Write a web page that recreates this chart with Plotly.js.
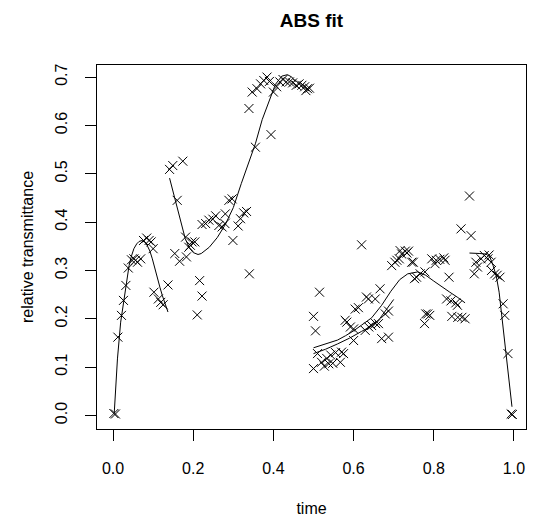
<!DOCTYPE html>
<html>
<head>
<meta charset="utf-8">
<script src="https://cdn.plot.ly/plotly-3.0.1.min.js"></script>
<style>html,body{margin:0;padding:0;background:#fff;}#chart{width:533px;height:521px;}</style>
</head>
<body>
<div id="chart"></div>
<script>
// observed data: time and relative transmittance
var time = [
  0.002,0.006,0.012,0.021,0.026,0.032,0.038,0.046,0.052,0.056,0.061,0.069,0.076,0.084,0.090,0.095,0.100,0.102,0.113,0.119,0.125,0.137,
  0.141,0.149,0.174,0.160,0.154,0.166,0.183,0.181,0.189,0.193,0.197,0.204,0.216,0.222,0.210,0.222,0.231,0.239,0.249,0.256,0.264,0.272,0.279,0.280,0.289,0.297,0.299,0.312,0.318,0.326,0.333,0.340,0.355,0.394,0.339,
  0.347,0.359,0.368,0.376,0.384,0.390,0.400,0.408,0.416,0.424,0.432,0.440,0.448,0.457,0.464,0.471,0.478,0.485,0.490,0.481,
  0.500,0.500,0.505,0.510,0.515,0.520,0.527,0.533,0.538,0.543,0.548,0.555,0.567,0.570,0.575,0.579,0.583,0.592,0.600,0.600,0.604,0.612,0.620,0.629,0.632,0.637,0.638,0.645,0.654,0.655,0.662,0.666,0.670,0.679,0.687,0.687,0.695,0.703,0.708,0.714,0.716,0.720,0.729,0.733,0.737,0.745,0.749,0.752,0.757,0.766,0.778,0.777,0.780,0.785,0.790,0.795,0.803,0.806,0.815,0.825,0.828,0.832,0.838,0.843,0.845,0.855,0.859,0.860,0.868,0.870,0.878,0.889,0.893,
  0.901,0.905,0.909,0.918,0.926,0.935,0.938,0.943,0.944,0.952,0.958,0.965,0.973,0.977,0.985,0.993,0.996
];
var transmittance = [
  0.004,0.003,0.162,0.207,0.238,0.269,0.305,0.322,0.324,0.321,0.317,0.324,0.362,0.367,0.362,0.359,0.345,0.255,0.241,0.234,0.229,0.270,
  0.509,0.517,0.526,0.445,0.335,0.319,0.328,0.369,0.348,0.352,0.359,0.359,0.279,0.247,0.208,0.395,0.397,0.404,0.406,0.413,0.393,0.390,0.397,0.417,0.445,0.448,0.362,0.392,0.407,0.419,0.422,0.293,0.555,0.581,0.635,
  0.669,0.676,0.686,0.693,0.700,0.691,0.669,0.680,0.690,0.695,0.690,0.690,0.688,0.683,0.686,0.683,0.680,0.676,0.677,0.672,
  0.205,0.097,0.175,0.128,0.255,0.110,0.102,0.118,0.107,0.125,0.108,0.130,0.110,0.131,0.128,0.197,0.193,0.183,0.179,0.155,0.220,0.223,0.353,0.176,0.245,0.241,0.183,0.186,0.241,0.190,0.190,0.262,0.159,0.210,0.162,0.216,0.310,0.317,0.321,0.324,0.341,0.334,0.340,0.336,0.340,0.317,0.317,0.283,0.286,0.293,0.297,0.190,0.210,0.210,0.207,0.324,0.314,0.321,0.323,0.326,0.321,0.241,0.286,0.237,0.205,0.233,0.228,0.203,0.386,0.203,0.200,0.454,0.372,
  0.293,0.317,0.307,0.324,0.331,0.324,0.332,0.317,0.300,0.293,0.290,0.286,0.231,0.207,0.128,0.003,0.002
];

// fitted curve pieces
var fit1Time = [0.003,0.011,0.019,0.026,0.032,0.040,0.046,0.052,0.059,0.065,0.073,0.080,0.085,0.092,0.098,0.104,0.110,0.117,0.123,0.130,0.137];
var fit1Value = [0.005,0.117,0.193,0.235,0.269,0.310,0.330,0.345,0.355,0.360,0.362,0.358,0.352,0.340,0.324,0.305,0.283,0.265,0.248,0.232,0.214];
var fit2Time = [0.141,0.150,0.160,0.170,0.180,0.190,0.200,0.212,0.220,0.240,0.260,0.280,0.300,0.320,0.340,0.355,0.372,0.389,0.405,0.421,0.435,0.446,0.455];
var fit2Value = [0.491,0.462,0.428,0.395,0.366,0.347,0.337,0.333,0.335,0.348,0.368,0.395,0.430,0.480,0.525,0.562,0.612,0.648,0.685,0.702,0.705,0.700,0.690];
var fit3Time = [0.500,0.520,0.540,0.560,0.580,0.600,0.620,0.645,0.670,0.693,0.715,0.735,0.760,0.780,0.800,0.820,0.840,0.860,0.878];
var fit3Value = [0.140,0.145,0.150,0.156,0.165,0.175,0.187,0.202,0.228,0.257,0.281,0.293,0.297,0.290,0.278,0.266,0.255,0.244,0.233];
var fit3bTime = [0.500,0.530,0.560,0.590,0.620,0.645,0.665,0.685,0.700];
var fit3bValue = [0.128,0.137,0.148,0.160,0.174,0.185,0.200,0.222,0.240];
var fit4Time = [0.889,0.900,0.915,0.930,0.940,0.948,0.956,0.963,0.970,0.977,0.984,0.990,0.995];
var fit4Value = [0.336,0.336,0.335,0.334,0.328,0.310,0.288,0.255,0.205,0.155,0.100,0.055,0.018];

var xTicks = [0, 0.2, 0.4, 0.6, 0.8, 1.0];
var xTickText = ["0.0","0.2","0.4","0.6","0.8","1.0"];
var yTicks = [0, 0.1, 0.2, 0.3, 0.4, 0.5, 0.6, 0.7];
var yTickText = ["0.0","0.1","0.2","0.3","0.4","0.5","0.6","0.7"];

var FONT = "Liberation Sans, Arial, Helvetica, sans-serif";
function lineTrace(x, y) {
  return {x: x, y: y, type: "scatter", mode: "lines", line: {color: "#000", width: 1}, hoverinfo: "skip"};
}
var traces = [
  {x: time, y: transmittance, type: "scatter", mode: "markers",
   marker: {symbol: "x-thin-open", size: 9, color: "#000", line: {color: "#000", width: 1}}},
  lineTrace(fit1Time, fit1Value),
  lineTrace(fit2Time, fit2Value),
  lineTrace(fit3Time, fit3Value),
  lineTrace(fit3bTime, fit3bValue),
  lineTrace(fit4Time, fit4Value)
];
var axisCommon = {
  showgrid: false, zeroline: false, showline: true, mirror: true,
  linecolor: "#000", linewidth: 1, ticks: "outside", ticklen: 11, tickwidth: 1, tickcolor: "#000",
  tickfont: {family: FONT, size: 16, color: "#000"}
};
var layout = {
  width: 533, height: 521,
  margin: {l: 97, r: 7, t: 65, b: 92, pad: 0},
  paper_bgcolor: "#fff", plot_bgcolor: "#fff",
  showlegend: false,
  title: {text: "<b>ABS fit</b>", font: {family: FONT, size: 19, color: "#000"},
          x: 0.5, xref: "paper", y: 1 - 20/521, yref: "container", yanchor: "middle"},
  xaxis: Object.assign({}, axisCommon, {
    range: [-0.04, 1.03], tickvals: xTicks, ticktext: xTickText, ticklabelstandoff: 14,
    title: {text: "time", font: {family: FONT, size: 16, color: "#000"}, standoff: 26}
  }),
  yaxis: Object.assign({}, axisCommon, {
    range: [-0.028, 0.725], tickvals: yTicks, ticktext: yTickText, tickangle: -90, ticklabelstandoff: 12,
    title: {text: "relative transmittance", font: {family: FONT, size: 16, color: "#000"}, standoff: 14}
  })
};
Plotly.newPlot("chart", traces, layout, {displayModeBar: false, staticPlot: true});
</script>
</body>
</html>
